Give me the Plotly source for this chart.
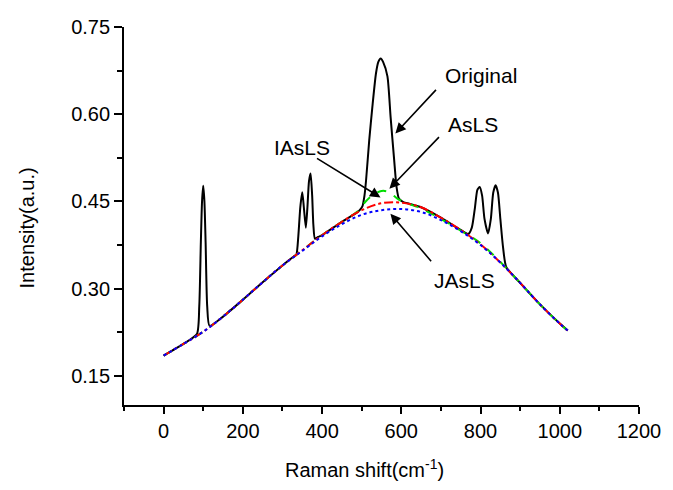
import plotly.graph_objects as go

# Original spectrum (black)
orig_x = [0, 50, 84, 90, 94, 97, 100, 103, 106, 110, 116, 150, 200, 250, 300, 330,
          335, 340, 345, 350, 354, 359, 363, 367, 371, 375, 378, 382, 390,
          400, 450, 490, 496, 502, 507, 511, 519, 527, 536, 542, 548, 554, 565, 573, 582, 588, 594, 605, 620,
          650, 700, 750, 769, 778, 786, 792, 798, 804, 810, 819, 826, 832, 838, 844, 850, 857, 865,
          900, 950, 1000, 1020]
orig_y = [0.185, 0.205, 0.222, 0.27, 0.38, 0.45, 0.477, 0.45, 0.38, 0.27, 0.236, 0.252, 0.281, 0.311, 0.340, 0.356,
          0.358, 0.39, 0.44, 0.466, 0.44, 0.405, 0.44, 0.485, 0.498, 0.46, 0.41, 0.386, 0.389,
          0.392, 0.415, 0.432, 0.436, 0.442, 0.46, 0.486, 0.555, 0.613, 0.670, 0.690, 0.696, 0.690, 0.665, 0.595, 0.521, 0.475, 0.455, 0.449, 0.446,
          0.440, 0.422, 0.401, 0.394, 0.405, 0.44, 0.47, 0.475, 0.46, 0.42, 0.395, 0.42, 0.465, 0.478, 0.465, 0.42, 0.37, 0.337,
          0.310, 0.273, 0.240, 0.228]

# Baselines
base_x = [0, 50, 100, 150, 200, 250, 300, 350, 400, 450, 500, 550, 600, 650, 700, 750, 800, 850, 900, 950, 1000, 1020]
iasls_y = [0.185, 0.205, 0.226, 0.252, 0.281, 0.311, 0.340, 0.366, 0.392, 0.415, 0.435, 0.447, 0.448, 0.440,
           0.422, 0.401, 0.376, 0.345, 0.310, 0.273, 0.240, 0.228]
jasls_y = [0.185, 0.205, 0.226, 0.252, 0.281, 0.311, 0.340, 0.365, 0.390, 0.411, 0.427, 0.435, 0.437, 0.432,
           0.418, 0.399, 0.375, 0.345, 0.310, 0.273, 0.240, 0.228]
asls_x = [0, 50, 100, 150, 200, 250, 300, 350, 400, 450, 490, 510, 530, 550, 570, 590, 610, 650, 700, 750, 800, 850, 900, 950, 1000, 1020]
asls_y = [0.185, 0.205, 0.226, 0.252, 0.281, 0.311, 0.340, 0.366, 0.392, 0.415, 0.433, 0.450, 0.462, 0.468, 0.466, 0.455, 0.448,
          0.438, 0.420, 0.400, 0.378, 0.346, 0.310, 0.273, 0.240, 0.228]

fig = go.Figure()
fig.add_trace(go.Scatter(x=orig_x, y=orig_y, mode="lines", line=dict(color="black", width=2, shape="spline", smoothing=0.6), name="Original"))
fig.add_trace(go.Scatter(x=asls_x, y=asls_y, mode="lines", line=dict(color="#00dd00", width=2, dash="dash", shape="spline"), name="AsLS"))
fig.add_trace(go.Scatter(x=base_x, y=iasls_y, mode="lines", line=dict(color="#ff0000", width=2, dash="dashdot", shape="spline"), name="IAsLS"))
fig.add_trace(go.Scatter(x=base_x, y=jasls_y, mode="lines", line=dict(color="#0000ff", width=2, dash="dot", shape="spline"), name="JAsLS"))

font = "Liberation Sans, Arial, sans-serif"
annots = []
# arrows
for hx, hy, ax, ay in [(585, 0.567, 42, -45), (570, 0.472, 51, -53), (547.5, 0.457, -65, -40), (572.5, 0.429, 42, 49)]:
    annots.append(dict(x=hx, y=hy, xref="x", yref="y", ax=ax, ay=ay, text="", showarrow=True,
                       arrowhead=2, arrowsize=1.3, arrowwidth=1.6, arrowcolor="black"))
for tx, ty, t in [(800, 0.667, "Original"), (780, 0.583, "AsLS"), (350, 0.543, "IAsLS"), (760, 0.314, "JAsLS")]:
    annots.append(dict(x=tx, y=ty, xref="x", yref="y", text=t, showarrow=False, font=dict(size=21, color="black", family=font)))
# axis titles
annots.append(dict(x=(367 - 124) / 520, y=-(468 - 405) / 377, xref="paper", yref="paper", text="Raman shift(cm<sup>-1</sup>)",
                   showarrow=False, font=dict(size=20, color="black", family=font), yanchor="middle"))
annots.append(dict(x=-(124 - 26) / 520, y=(405 - 228) / 377, xref="paper", yref="paper", text="Intensity(a.u.)", textangle=-90,
                   showarrow=False, font=dict(size=20, color="black", family=font), xanchor="center", yanchor="middle"))

fig.update_layout(
    width=673, height=490,
    margin=dict(l=124, r=29, t=27, b=85),
    paper_bgcolor="white", plot_bgcolor="white",
    showlegend=False,
    font=dict(family=font, size=20, color="black"),
    annotations=annots,
    xaxis=dict(range=[-100, 1200], tick0=0, dtick=200, ticks="outside", ticklen=7, tickwidth=1.5, tickcolor="black",
               showline=True, linecolor="black", linewidth=1.8, showgrid=False, zeroline=False,
               tickfont=dict(size=20, family=font),
               minor=dict(dtick=100, tick0=0, ticks="outside", ticklen=4, tickwidth=1.5, tickcolor="black", showgrid=False)),
    yaxis=dict(range=[0.1, 0.75], tick0=0.15, dtick=0.15, tickformat=".2f", ticks="outside", ticklen=8, tickwidth=1.5, tickcolor="black",
               showline=True, linecolor="black", linewidth=1.8, showgrid=False, zeroline=False,
               tickfont=dict(size=20, family=font),
               minor=dict(dtick=0.075, tick0=0.15, ticks="outside", ticklen=5, tickwidth=1.5, tickcolor="black", showgrid=False)),
)

fig.write_html("out.html")
